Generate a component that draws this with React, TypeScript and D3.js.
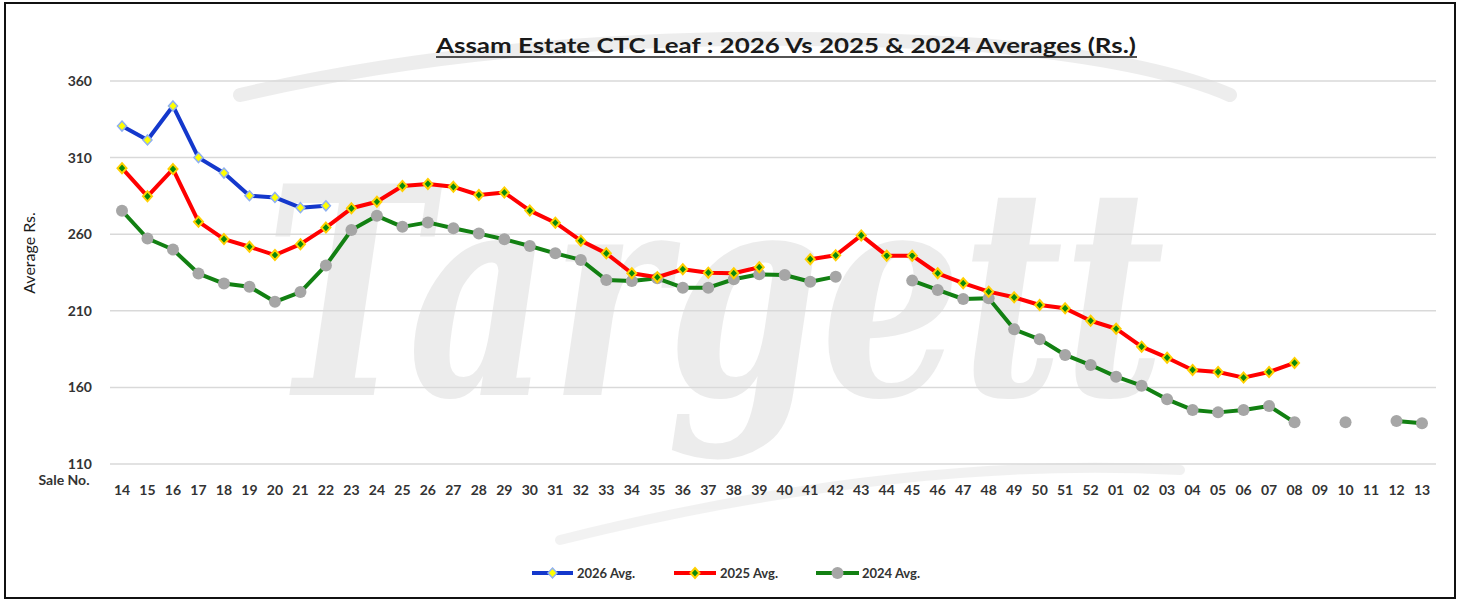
import React from "react";
import * as d3 from "d3";

const saleNos: string[] = [
  "14","15","16","17","18","19","20","21","22","23","24","25","26","27","28","29","30","31","32","33",
  "34","35","36","37","38","39","40","41","42","43","44","45","46","47","48","49","50","51","52",
  "01","02","03","04","05","06","07","08","09","10","11","12","13",
];

const avg2026: (number | null)[] = [
  330.6, 321.5, 343.7, 310.0, 299.9, 285.1, 284.0, 277.3, 278.5,
  ...Array(43).fill(null),
];

const avg2025: (number | null)[] = [
  303.1, 284.7, 302.5, 268.2, 256.8, 251.8, 246.4, 253.5, 264.3, 276.9,
  281.2, 291.5, 292.8, 290.9, 285.6, 287.2, 275.4, 267.5, 255.8, 247.5,
  234.5, 231.9, 237.1, 234.9, 234.5, 238.4, null, 243.7, 246.2, 259.2,
  246.0, 246.0, 234.5, 228.0, 222.5, 218.8, 213.8, 211.6, 203.5,
  198.3, 186.6, 179.4, 171.4, 170.1, 166.4, 170.1, 176.0, null, null, null, null, null,
];

const avg2024: (number | null)[] = [
  275.3, 257.2, 250.0, 234.3, 227.8, 225.7, 215.9, 222.2, 239.6, 262.7,
  272.0, 264.8, 267.7, 263.9, 260.4, 256.7, 252.3, 247.5, 243.2, 230.1,
  229.5, 231.2, 225.1, 225.1, 230.6, 233.8, 233.4, 229.0, 232.3, null,
  null, 229.7, 223.6, 217.7, 218.2, 197.9, 191.4, 181.2, 174.6,
  167.0, 161.1, 152.2, 145.3, 143.7, 145.3, 147.9, 137.2, null, 137.2, null, 138.1, 136.6,
];

const yTicks: number[] = [110, 160, 210, 260, 310, 360];

const seriesNames: string[] = ["2026 Avg.", "2025 Avg.", "2024 Avg."];

const W = 1458;
const H = 600;
const FONT = "Lato, 'Open Sans', sans-serif";

export default function App() {
  const x = d3.scalePoint<string>().domain(saleNos).range([122, 1422]);
  const y = d3.scaleLinear().domain([110, 360]).range([464, 81]);

  const mkLine = d3
    .line<number | null>()
    .defined((d) => d !== null)
    .x((_, i) => x(saleNos[i]) as number)
    .y((d) => y(d as number));

  const diamond = "M0,-5L4.5,0L0,5L-4.5,0Z";

  const series = [
    { name: seriesNames[0], data: avg2026, color: "#1438cc", kind: "d26" },
    { name: seriesNames[1], data: avg2025, color: "#ff0000", kind: "d25" },
    { name: seriesNames[2], data: avg2024, color: "#128012", kind: "c24" },
  ];

  const marker = (kind: string, cx: number, cy: number, key: string) => {
    if (kind === "d26")
      return (
        <path key={key} d={diamond} transform={`translate(${cx},${cy})`} fill="#ffff00" stroke="#8fb0f0" strokeWidth={1.5} />
      );
    if (kind === "d25")
      return (
        <path key={key} d={diamond} transform={`translate(${cx},${cy})`} fill="#0a8a0a" stroke="#ffd000" strokeWidth={2} />
      );
    return <circle key={key} cx={cx} cy={cy} r={6} fill="#a6a6a6" />;
  };

  const legendPos = [
    { x0: 532, x1: 573, tx: 577 },
    { x0: 674, x1: 716, tx: 720 },
    { x0: 816, x1: 859, tx: 862 },
  ];

  return (
    <svg
      width={W}
      height={H}
      style={{ position: "absolute", left: 0, top: 0, background: "#fff" }}
      fontFamily={FONT}
    >
      <rect x={0} y={0} width={W} height={H} fill="#fff" />
      {/* watermark */}
      <g opacity={0.45}>
        <path d="M 240 95 Q 560 20 980 45 Q 1150 60 1230 95" fill="none" stroke="#d8d8d8" strokeWidth={14} strokeLinecap="round" />
        <path d="M 560 540 Q 900 455 1180 470" fill="none" stroke="#e2e2e2" strokeWidth={10} strokeLinecap="round" />
        <text
          x={715}
          y={395}
          textAnchor="middle"
          fontFamily="'DejaVu Serif', serif"
          fontWeight="bold"
          fontStyle="italic"
          fontSize={290}
          fill="#d6d6d6"
          textLength={900}
          lengthAdjust="spacingAndGlyphs"
        >
          Targett
        </text>
      </g>

      {/* border */}
      <rect x={5} y={3} width={1450} height={595} fill="none" stroke="#111" strokeWidth={2} />

      {/* title */}
      <text x={786} y={53} textAnchor="middle" fontSize={21} fontWeight="bold" fill="#1a1a1a" textLength={700} lengthAdjust="spacingAndGlyphs">
        Assam Estate CTC Leaf : 2026 Vs 2025 &amp; 2024 Averages (Rs.)
      </text>
      <line x1={436} x2={1137} y1={57} y2={57} stroke="#1a1a1a" strokeWidth={1.5} />

      {/* grid + y ticks */}
      {yTicks.map((t) => (
        <g key={t}>
          <line x1={110} x2={1436} y1={y(t)} y2={y(t)} stroke="#d9d9d9" strokeWidth={1.5} />
          <text x={92} y={y(t) + 5} textAnchor="end" fontSize={14} fontWeight="bold" fill="#333">
            {t}
          </text>
        </g>
      ))}

      <text transform="translate(35,253) rotate(-90)" textAnchor="middle" fontSize={16} fill="#1a1a1a">
        Average Rs.
      </text>
      <text x={64} y={485} textAnchor="middle" fontSize={14} fontWeight="bold" fill="#333">
        Sale No.
      </text>

      {/* x tick labels */}
      {saleNos.map((s) => (
        <text key={s + "-lbl"} x={x(s) as number} y={495} textAnchor="middle" fontSize={14} fontWeight="bold" fill="#333">
          {s}
        </text>
      ))}

      {/* series lines (draw back to front: 2024, 2025, 2026) */}
      {[...series].reverse().map((s) => (
        <g key={s.name}>
          <path d={mkLine(s.data) as string} fill="none" stroke={s.color} strokeWidth={4} strokeLinejoin="round" />
          {s.data.map((v, i) =>
            v === null ? null : marker(s.kind, x(saleNos[i]) as number, y(v), `${s.name}-${i}`)
          )}
        </g>
      ))}

      {/* legend */}
      {series.map((s, i) => {
        const p = legendPos[i];
        return (
          <g key={s.name + "-leg"}>
            <line x1={p.x0} x2={p.x1} y1={573} y2={573} stroke={s.color} strokeWidth={4} />
            {marker(s.kind, (p.x0 + p.x1) / 2, 573, s.name + "-legm")}
            <text x={p.tx} y={578} fontSize={13} fontWeight="bold" fill="#333">
              {s.name}
            </text>
          </g>
        );
      })}
    </svg>
  );
}
